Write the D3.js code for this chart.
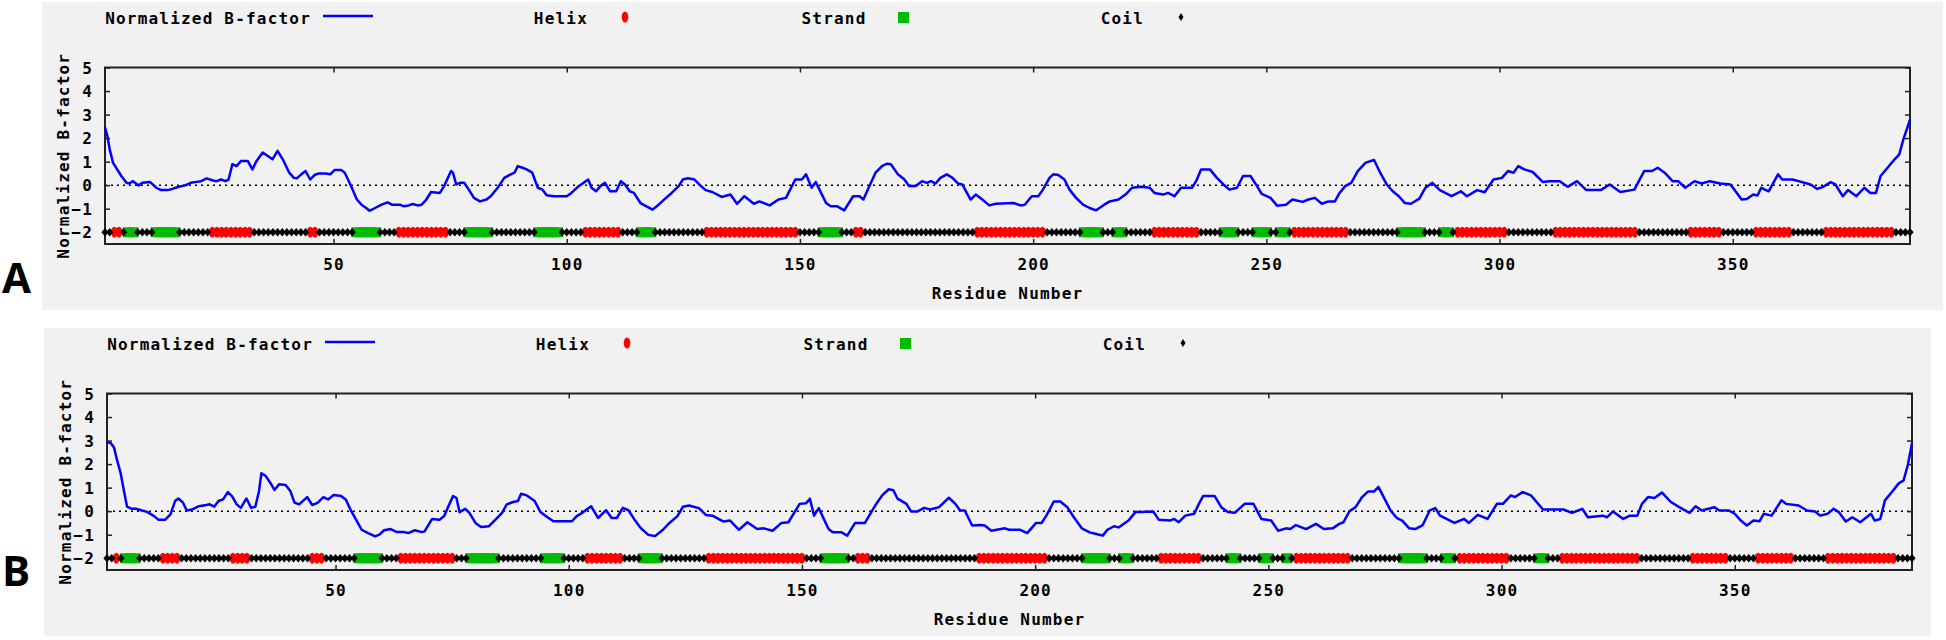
<!DOCTYPE html>
<html>
<head>
<meta charset="utf-8">
<script src="https://d3js.org/d3.v7.min.js"></script>
<style>
body { margin: 0; background: #fff; }
text { font-family: "DejaVu Sans Mono", monospace; font-weight: bold; font-size: 16px; fill: #000; letter-spacing: 1.2px; }
text.panel-label { font-family: "Open Sans", sans-serif; font-size: 42px; letter-spacing: 0; }
</style>
</head>
<body>
<div id="chart"></div>
<script>
var nResidues = 388;
var yTicks = [-2, -1, 0, 1, 2, 3, 4, 5];
var xTicks = [50, 100, 150, 200, 250, 300, 350];
var legendNames = ["Normalized B-factor", "Helix", "Strand", "Coil"];

// [residue, normalized B-factor]
var bfactorA = [[1,2.46],[1.5,2.1],[2,1.53],[2.7,0.96],[3.6,0.67],[4.5,0.39],[5.6,0.1],[6.2,0.07],[7,0.17],[8.2,-0.01],[9,0.1],[10.7,0.13],[12,-0.11],[13,-0.21],[14.4,-0.21],[15.4,-0.16],[16.8,-0.07],[18.2,-0.01],[19.4,0.1],[20.6,0.14],[21.6,0.17],[22.8,0.29],[24,0.21],[24.9,0.17],[25.9,0.24],[26.8,0.17],[27.5,0.24],[28.3,0.89],[29.2,0.81],[30.2,1.03],[31.6,1.03],[32.6,0.67],[33.5,1.03],[34.8,1.39],[35.9,1.24],[36.9,1.1],[38,1.46],[39.3,1.03],[40.5,0.53],[41.5,0.31],[42.1,0.29],[43.1,0.46],[44,0.6],[45,0.24],[45.9,0.43],[46.9,0.5],[48.3,0.5],[49.3,0.46],[50.2,0.64],[51.7,0.64],[52.4,0.53],[53.1,0.24],[54.1,-0.19],[55,-0.61],[56,-0.83],[57,-0.97],[57.7,-1.09],[58.9,-0.97],[60.3,-0.83],[61.6,-0.73],[62.5,-0.83],[64.2,-0.83],[65.1,-0.9],[66.1,-0.86],[67,-0.8],[68,-0.86],[68.9,-0.83],[69.9,-0.61],[70.9,-0.29],[72.8,-0.33],[73.7,-0.04],[74.7,0.39],[75.2,0.6],[75.6,0.53],[76.3,0.03],[77.1,0.1],[78,0.1],[79,-0.19],[80.1,-0.54],[81.4,-0.69],[82.8,-0.61],[83.7,-0.47],[85.2,-0.11],[86.6,0.31],[88,0.46],[88.8,0.53],[89.5,0.81],[90.5,0.74],[91.4,0.67],[92.6,0.53],[93.8,-0.11],[94.8,-0.19],[95.7,-0.43],[97.2,-0.47],[100,-0.47],[101,-0.33],[102.4,-0.07],[103.4,0.07],[104.6,0.24],[105.3,-0.11],[106.3,-0.26],[107.2,-0.04],[108.2,0.1],[109.3,-0.26],[110.6,-0.26],[111.6,0.17],[112.5,0.03],[113.5,-0.26],[114.4,-0.33],[115.8,-0.76],[117.1,-0.9],[118.4,-1.04],[119.7,-0.83],[121.1,-0.57],[122.5,-0.33],[124,-0.04],[124.9,0.24],[126,0.29],[127.4,0.24],[128.4,0.03],[129.8,-0.21],[131.2,-0.29],[133.2,-0.5],[135.1,-0.4],[136.5,-0.79],[138.1,-0.47],[140.1,-0.79],[141.3,-0.69],[143.5,-0.86],[145.4,-0.61],[147,-0.54],[149,0.24],[150.4,0.24],[151.3,0.46],[152.5,-0.11],[153.4,0.13],[155.6,-0.76],[156.6,-0.9],[158,-0.9],[159.5,-1.07],[161.4,-0.47],[162.8,-0.47],[163.6,-0.61],[164.9,-0.04],[166.2,0.53],[167.6,0.81],[168.6,0.91],[169.5,0.89],[171,0.46],[172.4,0.24],[173.4,-0.04],[174.8,-0.04],[176.2,0.17],[177.2,0.1],[178.1,0.17],[179.1,0.07],[180.1,0.31],[181.5,0.46],[182.7,0.31],[183.9,0.07],[184.8,0.03],[186.6,-0.61],[187.7,-0.4],[189.1,-0.61],[190.6,-0.86],[192,-0.79],[195.8,-0.76],[197.3,-0.86],[198.2,-0.83],[199.7,-0.47],[201.1,-0.47],[202.1,-0.19],[203.5,0.31],[204.3,0.46],[205.4,0.43],[206.7,0.24],[207.8,-0.19],[209.2,-0.54],[210.7,-0.83],[212.1,-0.97],[213.5,-1.07],[215,-0.86],[216.4,-0.69],[218.3,-0.61],[219.8,-0.4],[221.2,-0.11],[223.1,-0.07],[225,-0.11],[226,-0.33],[227.9,-0.4],[228.9,-0.33],[230.3,-0.47],[231.7,-0.11],[234.1,-0.11],[235.1,0.24],[236,0.67],[237.9,0.67],[239.4,0.31],[240.8,0.03],[242.1,-0.19],[243.7,-0.11],[245,0.39],[246.6,0.39],[248,-0.04],[249,-0.37],[250.9,-0.54],[252.3,-0.87],[254.2,-0.83],[255.6,-0.61],[257.8,-0.71],[259,-0.61],[260.4,-0.54],[261.9,-0.79],[263.3,-0.69],[264.7,-0.69],[265.7,-0.33],[266.9,-0.04],[268.2,0.1],[269.6,0.6],[271.3,0.96],[273.1,1.07],[274.4,0.53],[275.8,0.03],[277.1,-0.26],[278.4,-0.47],[279.7,-0.76],[281,-0.79],[282.8,-0.57],[284.1,-0.11],[285.6,0.1],[287.2,-0.21],[289.7,-0.47],[291.7,-0.26],[293,-0.47],[295.2,-0.21],[296.8,-0.3],[298.7,0.24],[300.5,0.31],[301.8,0.6],[303,0.53],[304,0.81],[305.3,0.67],[307.1,0.56],[309.3,0.13],[310.6,0.17],[312.9,0.17],[314.6,-0.07],[316.6,0.17],[318.6,-0.21],[321.7,-0.21],[323.6,0.03],[325.9,-0.29],[328.9,-0.19],[331,0.6],[332.7,0.6],[333.9,0.74],[335.4,0.53],[337.1,0.17],[338.3,0.17],[339.8,-0.11],[341.8,0.17],[343.3,0.07],[345.1,0.17],[347.3,0.07],[349.5,0.03],[350.4,-0.21],[351.9,-0.61],[353,-0.59],[354.4,-0.4],[355.3,-0.44],[356.1,-0.11],[357.7,-0.26],[359.7,0.46],[360.6,0.24],[362.8,0.24],[364.1,0.17],[366.7,0.03],[368.1,-0.16],[369.4,-0.07],[371,0.13],[372,0.03],[373.6,-0.47],[374.7,-0.21],[376.5,-0.47],[378.2,-0.11],[379.5,-0.33],[380.7,-0.33],[381.7,0.39],[382.6,0.6],[384.4,1.03],[385.7,1.31],[386.6,1.96],[388,2.78]];

var bfactorB = [[1,2.93],[1.8,2.9],[2.5,2.71],[3.1,2.21],[3.9,1.64],[4.7,0.79],[5.3,0.19],[6.3,0.1],[7.2,0.1],[8.5,0.03],[9.6,-0.03],[11.1,-0.21],[12,-0.36],[13.5,-0.36],[14.6,-0.14],[15.6,0.43],[16.3,0.54],[17.3,0.36],[18.1,0.03],[19.2,0.07],[20.7,0.21],[22.3,0.26],[23,0.29],[24,0.19],[24.9,0.43],[25.9,0.5],[26.9,0.81],[27.8,0.64],[28.8,0.29],[29.7,0.14],[30.9,0.54],[31.9,0.14],[32.8,0.19],[33.6,0.86],[34.1,1.61],[35,1.5],[36,1.21],[36.9,0.9],[37.9,1.14],[39.3,1.11],[40.3,0.86],[41.2,0.36],[42.2,0.29],[43.9,0.6],[45,0.26],[46.2,0.36],[47.4,0.6],[48.4,0.5],[49.6,0.69],[51.2,0.64],[52.2,0.5],[53.2,0.07],[54.6,-0.43],[55.6,-0.79],[57,-0.93],[58.5,-1.07],[59.4,-1],[60.4,-0.81],[61.8,-0.76],[63.2,-0.89],[64.7,-0.89],[65.6,-0.93],[67,-0.81],[68.5,-0.89],[69.1,-0.86],[70.7,-0.33],[72.3,-0.36],[73.3,-0.21],[74.2,0.21],[75.2,0.64],[75.9,0.57],[76.6,-0.04],[77.8,0.1],[78.7,-0.07],[80,-0.5],[81.2,-0.67],[82.9,-0.64],[84.3,-0.36],[85.7,-0.07],[86.7,0.29],[88.1,0.39],[89.1,0.43],[89.8,0.74],[91,0.67],[92.7,0.43],[93.9,-0.03],[95,-0.19],[96.7,-0.43],[100.7,-0.43],[101.7,-0.21],[102.9,-0.07],[104.8,0.21],[106.3,-0.29],[108,0.04],[109.2,-0.29],[110.3,-0.29],[111.6,0.14],[112.8,0.04],[114,-0.33],[115.4,-0.71],[117,-1],[118.5,-1.06],[120.2,-0.79],[121.6,-0.5],[123.3,-0.21],[124.5,0.19],[125.8,0.24],[127.9,0.13],[129.4,-0.16],[130.8,-0.19],[133.2,-0.44],[134.6,-0.4],[136.5,-0.79],[138.3,-0.47],[140.4,-0.76],[141.8,-0.73],[143.7,-0.83],[145.6,-0.5],[147.1,-0.47],[149.5,0.31],[150.9,0.34],[151.7,0.53],[152.6,-0.19],[153.6,0.13],[155.7,-0.76],[156.6,-0.9],[158.5,-0.9],[159.7,-1.04],[161.4,-0.5],[163.5,-0.5],[165.7,0.24],[167.2,0.67],[168.6,0.93],[169.6,0.89],[170.5,0.53],[172.4,0.31],[173.4,-0.01],[174.8,-0.01],[176.2,0.14],[177.5,0.07],[179.4,0.17],[181.5,0.57],[182.9,0.31],[183.9,0.03],[184.9,0.03],[186.5,-0.61],[188.2,-0.59],[189.2,-0.61],[190.6,-0.83],[193.5,-0.73],[194.4,-0.79],[196.8,-0.79],[198.3,-0.93],[200.2,-0.5],[201.4,-0.5],[202.4,-0.19],[204,0.41],[205.4,0.41],[206.9,0.17],[208.3,-0.26],[210,-0.73],[211.7,-0.9],[213.1,-0.97],[214.5,-1.04],[215.5,-0.79],[216.9,-0.64],[217.9,-0.69],[220,-0.4],[221.5,-0.04],[222.7,-0.04],[225.3,-0.01],[226.5,-0.36],[228.9,-0.4],[229.8,-0.33],[230.8,-0.47],[232.2,-0.19],[234.1,-0.11],[235.1,0.31],[236,0.64],[238.5,0.64],[239.9,0.17],[241.3,-0.04],[242.8,-0.07],[244.9,0.31],[246.8,0.31],[248.5,-0.33],[250.6,-0.4],[252.1,-0.83],[253.8,-0.73],[254.7,-0.76],[255.9,-0.59],[258.1,-0.76],[260.2,-0.54],[261.9,-0.76],[263.8,-0.73],[265.2,-0.54],[266.1,-0.47],[267.4,0],[268.7,0.17],[270.1,0.6],[271.4,0.84],[272.7,0.84],[273.6,1.03],[274.9,0.53],[276.2,0.03],[277.6,-0.3],[278.7,-0.4],[280.2,-0.73],[281.5,-0.76],[283.1,-0.59],[284.6,0.03],[285.8,0.13],[286.8,-0.19],[288.2,-0.33],[289.9,-0.5],[292,-0.33],[293,-0.5],[294.9,-0.16],[297,-0.33],[299,0.31],[300.3,0.31],[302,0.67],[302.9,0.6],[304.5,0.81],[306.3,0.67],[308.9,0.07],[313.3,0.07],[315.1,-0.07],[317.3,0.1],[318.5,-0.26],[321.7,-0.19],[322.6,-0.26],[323.9,-0.01],[326.1,-0.33],[327.5,-0.19],[329.1,-0.19],[330.1,0.31],[331.4,0.6],[332.8,0.56],[334.4,0.79],[336.3,0.39],[338.1,0.17],[340.3,-0.07],[341.6,0.21],[342.9,0.03],[345.6,0.17],[346.7,0.03],[348.7,0.03],[350,-0.11],[351.3,-0.4],[352.6,-0.61],[354,-0.4],[355.3,-0.43],[356.2,-0.11],[357.9,-0.19],[360,0.46],[361,0.31],[363.7,0.24],[365.5,0.03],[367.2,-0.01],[368.3,-0.19],[369.9,-0.11],[371.2,0.1],[372.3,-0.04],[373.8,-0.44],[375.2,-0.26],[376.9,-0.47],[379.2,-0.11],[380,-0.4],[381.2,-0.33],[382.2,0.46],[384,0.89],[385.1,1.17],[386.2,1.31],[387.1,1.96],[388,2.89]];

// secondary structure segments [first residue, last residue]; the rest is coil
var helixA = [[3,4],[24,32],[45,46],[64,74],[104,111],[130,149],[162,163],[188,202],[226,235],[256,267],[291,301],[312,329],[341,347],[355,362],[370,384]];
var strandA = [[6,7],[12,16],[55,59],[79,83],[94,98],[116,118],[155,158],[211,214],[218,219],[241,243],[248,250],[253,254],[279,283],[288,289]];
var helixB = [[3,3],[13,16],[28,31],[45,47],[64,75],[104,111],[130,150],[162,164],[188,202],[227,235],[256,267],[291,301],[313,329],[341,348],[355,362],[370,384]];
var strandB = [[5,7],[55,59],[79,84],[95,98],[116,119],[155,159],[211,215],[219,220],[242,243],[249,250],[254,254],[279,283],[288,289],[308,309]];

var width = 1946, height = 640;
var svg = d3.select("#chart").append("svg")
    .attr("width", width)
    .attr("height", height);

function expand(segments) {
    var out = [];
    segments.forEach(function(s) {
        for (var r = s[0]; r <= s[1]; r++) out.push(r);
    });
    return out;
}

function helixMark(sel) {
    return sel.append("ellipse").attr("rx", 3.3).attr("ry", 5.5).style("fill", "#ff0000");
}
function strandMark(sel) {
    return sel.append("rect").attr("x", -5.5).attr("y", -5).attr("width", 11).attr("height", 10).style("fill", "#00bb00");
}
function coilMark(sel, rx, ry) {
    return sel.append("path")
        .attr("d", "M" + (-rx) + ",0L0," + (-ry) + "L" + rx + ",0L0," + ry + "Z")
        .style("fill", "#000");
}

function drawPanel(p) {
    var g = svg.append("g")
        .attr("transform", "translate(" + p.dx + ", " + p.dy + ")");

    g.append("rect")
        .attr("x", p.bgX).attr("y", 2)
        .attr("width", p.bgW).attr("height", 308)
        .style("fill", "#f1f1f1");

    var x = d3.scaleLinear().domain([1, nResidues]).range([105, 1910]);
    var y = d3.scaleLinear().domain([-2.5, 5]).range([244, 67.5]);

    // legend, gnuplot style: right-aligned text then sample
    var cols = [348, 625, 903.5, 1181];
    var legend = g.append("g").classed("legend", true);
    legend.selectAll("text")
        .data(legendNames)
        .enter()
        .append("text")
            .attr("x", function(d, i) { return cols[i] - 37; })
            .attr("y", 18)
            .attr("text-anchor", "end")
            .attr("dominant-baseline", "central")
            .text(function(d) { return d; });
    legend.append("line")
        .attr("x1", cols[0] - 25).attr("x2", cols[0] + 25)
        .attr("y1", 16).attr("y2", 16)
        .style("stroke", "#0000ff").style("stroke-width", 2.5);
    helixMark(legend.append("g").attr("transform", "translate(" + cols[1] + ",17)"));
    strandMark(legend.append("g").attr("transform", "translate(" + cols[2] + ",17.5)"))
        .attr("y", -5.5).attr("height", 11);
    coilMark(legend.append("g").attr("transform", "translate(" + cols[3] + ",17)"), 2.5, 4);

    // zero reference
    g.append("line")
        .attr("x1", x(1)).attr("x2", x(nResidues))
        .attr("y1", y(0)).attr("y2", y(0))
        .style("stroke", "#000")
        .style("stroke-width", 1.5)
        .style("stroke-dasharray", "2,4");

    // border + inward ticks on all four sides
    g.append("rect")
        .attr("x", x(1)).attr("y", y(5))
        .attr("width", x(nResidues) - x(1)).attr("height", y(-2.5) - y(5))
        .style("fill", "none").style("stroke", "#222").style("stroke-width", 2);

    var left = g.append("g").attr("transform", "translate(" + x(1) + ",0)")
        .call(d3.axisLeft(y).tickValues(yTicks).tickSizeInner(-5).tickSizeOuter(0).tickPadding(12).tickFormat(d3.format("d")));
    var right = g.append("g").attr("transform", "translate(" + x(nResidues) + ",0)")
        .call(d3.axisRight(y).tickValues(yTicks).tickSizeInner(-5).tickSizeOuter(0).tickFormat(""));
    var bottom = g.append("g").attr("transform", "translate(0," + y(-2.5) + ")")
        .call(d3.axisBottom(x).tickValues(xTicks).tickSizeInner(-5).tickSizeOuter(0).tickPadding(15));
    var top = g.append("g").attr("transform", "translate(0," + y(5) + ")")
        .call(d3.axisTop(x).tickValues(xTicks).tickSizeInner(-5).tickSizeOuter(0).tickFormat(""));
    [left, right, bottom, top].forEach(function(a) {
        a.select(".domain").remove();
        a.selectAll(".tick line").style("stroke", "#222").style("stroke-width", 1.5);
    });
    left.selectAll("text").attr("dy", "0.36em");

    g.append("text")
        .attr("transform", "translate(63," + ((y(5) + y(-2.5)) / 2) + ") rotate(-90)")
        .attr("text-anchor", "middle")
        .attr("dominant-baseline", "central")
        .text("Normalized B-factor");

    g.append("text")
        .attr("x", (x(1) + x(nResidues)) / 2)
        .attr("y", 293)
        .attr("text-anchor", "middle")
        .attr("dominant-baseline", "central")
        .text("Residue Number");

    // B-factor curve
    var line = d3.line()
        .x(function(d) { return x(d[0]); })
        .y(function(d) { return y(d[1]); });
    g.append("path")
        .datum(p.bfactor)
        .attr("d", line)
        .style("fill", "none")
        .style("stroke", "#0000ff")
        .style("stroke-width", 2.5)
        .style("stroke-linejoin", "round");

    // secondary structure track at y = -2
    var helixRes = expand(p.helix);
    var strandRes = expand(p.strand);
    var taken = new Set(helixRes.concat(strandRes));
    var coilRes = d3.range(1, nResidues + 1).filter(function(r) { return !taken.has(r); });

    var track = g.append("g").classed("ss-track", true);
    helixMark(track.selectAll(".helix").data(helixRes).enter().append("g")
        .classed("helix", true)
        .attr("transform", function(d) { return "translate(" + x(d) + "," + y(-2) + ")"; }));
    strandMark(track.selectAll(".strand").data(strandRes).enter().append("g")
        .classed("strand", true)
        .attr("transform", function(d) { return "translate(" + x(d) + "," + y(-2) + ")"; }));
    coilMark(track.selectAll(".coil").data(coilRes).enter().append("g")
        .classed("coil", true)
        .attr("transform", function(d) { return "translate(" + x(d) + "," + y(-2) + ")"; }), 3.6, 4.2);

    svg.append("text")
        .classed("panel-label", true)
        .attr("x", 2)
        .attr("y", p.labelY)
        .text(p.label);
}

drawPanel({label: "A", dx: 0, dy: 0, bgX: 42, bgW: 1901, labelY: 293,
    bfactor: bfactorA, helix: helixA, strand: strandA});
drawPanel({label: "B", dx: 2, dy: 326, bgX: 42, bgW: 1887, labelY: 586,
    bfactor: bfactorB, helix: helixB, strand: strandB});
</script>
</body>
</html>
